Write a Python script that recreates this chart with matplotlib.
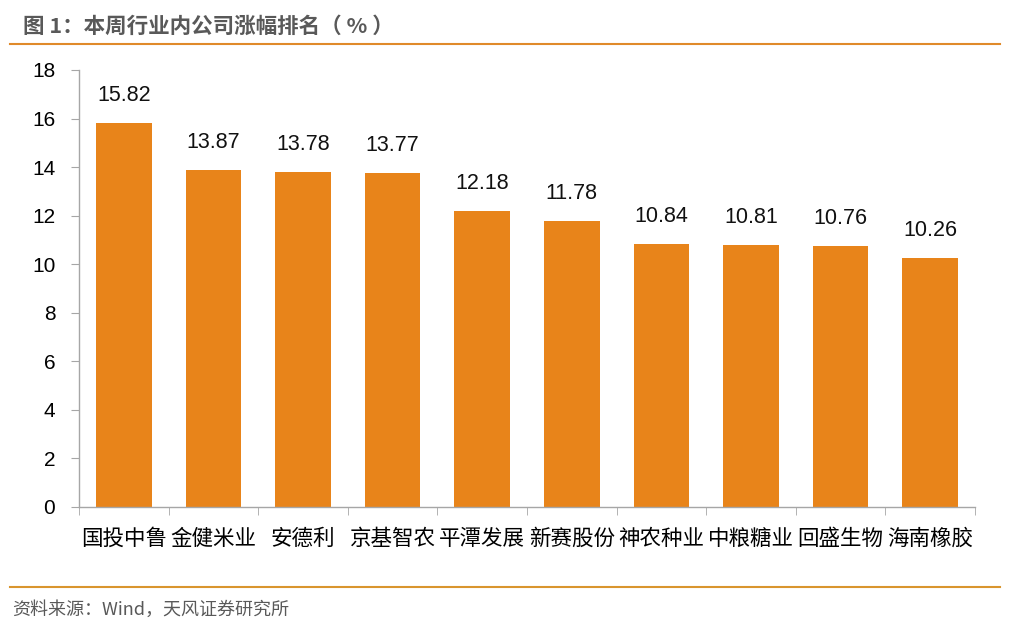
import matplotlib
matplotlib.use("Agg")
import matplotlib.pyplot as plt

plt.rcParams['font.family'] = ['Liberation Sans', 'Noto Sans CJK SC', 'DejaVu Sans']

companies = ['国投中鲁', '金健米业', '安德利', '京基智农', '平潭发展',
             '新赛股份', '神农种业', '中粮糖业', '回盛生物', '海南橡胶']
changes = [15.82, 13.87, 13.78, 13.77, 12.18, 11.78, 10.84, 10.81, 10.76, 10.26]
yticks = [0, 2, 4, 6, 8, 10, 12, 14, 16, 18]

fig = plt.figure(figsize=(10.24, 6.35), dpi=100)
ax = fig.add_axes([0.0771, 0.2016, 0.875, 0.6882])

x = range(len(companies))
ax.bar(x, changes, width=0.62, color='#E8841A')
for i, v in zip(x, changes):
    ax.text(i, v + 0.7, f'{v:.2f}', ha='center', va='bottom', fontsize=15.5, color='#111111')

ax.set_xlim(-0.5, len(companies) - 0.5)
ax.set_ylim(0, 18)
ax.set_yticks(yticks)
ax.set_xticks(x)
ax.set_xticklabels(companies, fontsize=15.5, family=['Noto Sans CJK SC', 'DejaVu Sans'])
ax.tick_params(axis='y', labelsize=15, direction='out', length=6, color='#A6A6A6', pad=11)
ax.tick_params(axis='x', length=0, pad=15)
# category boundary ticks on x axis
ax.set_xticks([i - 0.5 for i in range(len(companies) + 1)], minor=True)
ax.tick_params(axis='x', which='minor', length=6, color='#A6A6A6', direction='out')

for s in ['top', 'right']:
    ax.spines[s].set_visible(False)
for s in ['left', 'bottom']:
    ax.spines[s].set_color('#A6A6A6')
    ax.spines[s].set_linewidth(1)

fig.text(0.022, 0.958, '图 1：本周行业内公司涨幅排名（ % ）', fontsize=15.5, fontweight='bold',
         color='#595959', ha='left', va='center', family=['Noto Sans CJK SC', 'DejaVu Sans'])
fig.add_artist(plt.Line2D([0.01, 0.977], [0.930, 0.930], color='#E08A2A', lw=1.5))
fig.add_artist(plt.Line2D([0.01, 0.977], [0.075, 0.075], color='#D9952E', lw=1.5))
fig.text(0.012, 0.040, '资料来源：Wind，天风证券研究所', fontsize=13, color='#595959',
         ha='left', va='center', family=['Noto Sans CJK SC', 'DejaVu Sans'])

fig.savefig('out.png', dpi=100)
